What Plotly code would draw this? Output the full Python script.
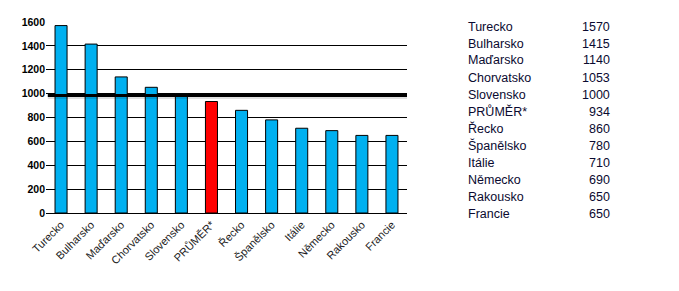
import plotly.graph_objects as go

countries = ["Turecko", "Bulharsko", "Maďarsko", "Chorvatsko", "Slovensko", "PRŮMĚR*",
             "Řecko", "Španělsko", "Itálie", "Německo", "Rakousko", "Francie"]
values = [1570, 1415, 1140, 1053, 1000, 934, 860, 780, 710, 690, 650, 650]
axis_labels = ["Turecko", "Bulharsko", "Maďarsko", "Chorvatsko", "Slovensko", "PRŮMĚR*",
               "Řecko", "Španělsko", "Itálie", "Německo", "Rakousko", "Francie"]
ref_level = 985
y_ticks = [0, 200, 400, 600, 800, 1000, 1200, 1400, 1600]

colors = ["#FF0000" if c.startswith("PRŮMĚR") else "#00B0F0" for c in countries]

fig = go.Figure()
fig.add_trace(go.Bar(
    x=axis_labels, y=values, width=0.4,
    marker=dict(color=colors, line=dict(color="black", width=1)),
    hoverinfo="skip",
))

# reference line with soft shadow
fig.add_shape(type="line", xref="paper", yref="y", x0=0.005, x1=1, y0=ref_level - 14, y1=ref_level - 14,
              line=dict(color="rgba(0,0,0,0.12)", width=4), layer="above")
fig.add_shape(type="line", xref="paper", yref="y", x0=0.005, x1=1, y0=ref_level, y1=ref_level,
              line=dict(color="black", width=3), layer="above")

annotations = []
for i, (c, v) in enumerate(zip(countries, values)):
    y = (213 - 26.5 - i * 17.0) / 191.0
    annotations.append(dict(xref="paper", yref="paper", x=(466 - 46) / 361.0, y=y, text=c,
                            showarrow=False, xanchor="left", yanchor="middle",
                            font=dict(family="Liberation Sans", size=12.5, color="#0a0a30")))
    annotations.append(dict(xref="paper", yref="paper", x=(612 - 46) / 361.0, y=y, text=str(v),
                            showarrow=False, xanchor="right", yanchor="middle",
                            font=dict(family="Liberation Sans", size=12.5, color="#0a0a30")))

fig.update_layout(
    width=679, height=291,
    margin=dict(l=46, r=272, t=22, b=78),
    paper_bgcolor="white", plot_bgcolor="white",
    showlegend=False,
    annotations=annotations,
    xaxis=dict(tickangle=-45, showgrid=False, showline=True, linecolor="black", linewidth=1,
               ticks="", tickfont=dict(family="Liberation Sans", size=11, color="#222222"),
               range=[-0.5, len(countries) - 0.5], fixedrange=True),
    yaxis=dict(range=[0, 1600], tickvals=y_ticks, showgrid=True, gridcolor="black", gridwidth=1,
               zeroline=False, showline=False, ticks="",
               tickfont=dict(family="Liberation Sans", size=10.5, color="black", weight="bold"),
               fixedrange=True),
)

fig.write_html("out.html")
